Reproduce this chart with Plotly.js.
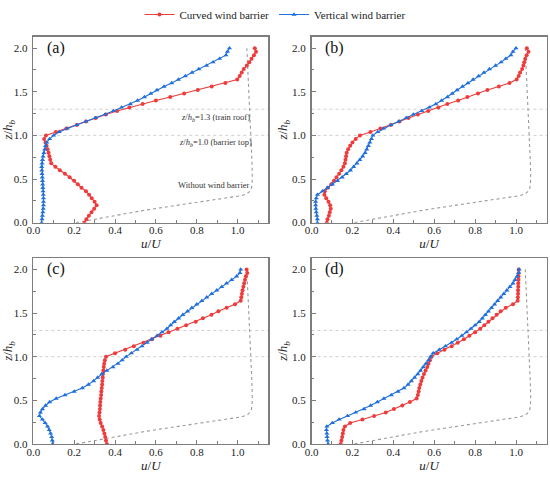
<!DOCTYPE html>
<html>
<head>
<meta charset="utf-8">
<script src="https://cdn.plot.ly/plotly-3.0.1.min.js"></script>
<style>html,body{margin:0;padding:0;background:#fff;}#chart{width:550px;height:479px;}</style>
</head>
<body>
<div id="chart"></div>
<script>
// Heights z/h_b of the measured points
const zLevels = [0.00,0.04,0.08,0.12,0.16,0.20,0.24,0.28,0.32,0.36,0.40,0.44,0.48,0.52,0.56,0.60,0.64,0.68,0.72,0.76,0.80,0.84,0.88,0.92,0.96,1.00,1.04,1.08,1.12,1.16,1.20,1.24,1.28,1.32,1.36,1.40,1.44,1.48,1.52,1.56,1.60,1.64,1.68,1.72,1.76,1.80,1.84,1.88,1.92,1.96,2.00];

// Panel (a)
const aCurved = [0.25,0.26,0.272,0.285,0.298,0.31,0.30,0.286,0.273,0.258,0.236,0.218,0.20,0.178,0.155,0.13,0.108,0.088,0.083,0.079,0.075,0.07,0.065,0.06,0.053,0.062,0.11,0.162,0.213,0.258,0.305,0.355,0.41,0.47,0.535,0.60,0.67,0.738,0.805,0.873,0.94,0.998,1.01,1.02,1.03,1.045,1.057,1.068,1.08,1.09,1.084];
const aVertical = [0.041,0.043,0.045,0.047,0.049,0.05,0.05,0.05,0.049,0.048,0.047,0.046,0.045,0.044,0.043,0.042,0.041,0.043,0.045,0.048,0.052,0.056,0.06,0.066,0.08,0.10,0.127,0.167,0.213,0.258,0.305,0.352,0.392,0.432,0.475,0.51,0.544,0.575,0.605,0.64,0.677,0.71,0.744,0.777,0.81,0.848,0.88,0.912,0.943,0.95,0.96];

// Panel (b)
const bCurved = [0.075,0.078,0.085,0.089,0.094,0.091,0.083,0.072,0.063,0.065,0.08,0.097,0.11,0.122,0.135,0.146,0.156,0.163,0.166,0.169,0.172,0.179,0.189,0.20,0.216,0.237,0.288,0.337,0.388,0.43,0.474,0.52,0.571,0.62,0.664,0.717,0.762,0.814,0.86,0.916,0.968,1.003,1.013,1.02,1.03,1.036,1.04,1.045,1.052,1.061,1.053];
const bVertical = [0.029,0.029,0.026,0.023,0.021,0.02,0.02,0.023,0.029,0.054,0.078,0.102,0.127,0.15,0.17,0.19,0.206,0.222,0.236,0.25,0.262,0.27,0.278,0.285,0.293,0.30,0.324,0.353,0.388,0.426,0.463,0.498,0.539,0.576,0.608,0.636,0.665,0.688,0.712,0.738,0.765,0.79,0.817,0.843,0.87,0.90,0.927,0.95,0.975,0.985,1.0];

// Panel (c)
const cCurved = [0.36,0.356,0.352,0.348,0.343,0.337,0.33,0.325,0.322,0.324,0.326,0.327,0.328,0.33,0.332,0.333,0.335,0.337,0.338,0.34,0.341,0.343,0.345,0.347,0.35,0.356,0.40,0.45,0.492,0.54,0.581,0.622,0.662,0.705,0.748,0.795,0.83,0.872,0.906,0.946,0.987,1.015,1.018,1.021,1.024,1.028,1.032,1.036,1.04,1.047,1.044];
const cVertical = [0.095,0.093,0.09,0.085,0.078,0.07,0.058,0.045,0.03,0.035,0.045,0.06,0.08,0.112,0.155,0.20,0.24,0.27,0.295,0.315,0.335,0.36,0.39,0.415,0.435,0.455,0.48,0.508,0.532,0.557,0.58,0.606,0.63,0.654,0.672,0.69,0.711,0.732,0.755,0.776,0.80,0.825,0.849,0.873,0.898,0.922,0.946,0.971,0.995,1.011,1.015];

// Panel (d)
const dCurved = [0.143,0.146,0.15,0.153,0.156,0.163,0.189,0.249,0.306,0.363,0.403,0.444,0.481,0.514,0.52,0.524,0.527,0.532,0.537,0.543,0.55,0.558,0.566,0.572,0.579,0.587,0.615,0.65,0.685,0.715,0.745,0.772,0.80,0.825,0.845,0.865,0.885,0.905,0.925,0.95,0.985,1.008,1.009,1.01,1.01,1.011,1.011,1.012,1.012,1.013,1.013];
const dVertical = [0.081,0.078,0.076,0.075,0.073,0.075,0.102,0.135,0.176,0.216,0.257,0.289,0.322,0.354,0.39,0.423,0.452,0.472,0.488,0.504,0.52,0.533,0.546,0.559,0.572,0.582,0.595,0.625,0.655,0.685,0.71,0.735,0.758,0.78,0.80,0.82,0.835,0.85,0.865,0.88,0.895,0.91,0.925,0.94,0.955,0.97,0.985,0.995,1.005,1.012,1.015];

// Without wind barrier profile
const zRef = [0,0.03,0.06,0.10,0.14,0.18,0.22,0.26,0.29,0.31,0.33,0.36,0.40,0.50,0.70,1.00,1.30,1.60,1.80,2.00];
const uRef = [0.21,0.28,0.35,0.44,0.54,0.65,0.76,0.88,0.97,1.02,1.045,1.06,1.068,1.072,1.07,1.065,1.06,1.055,1.05,1.045];

// Reference heights
const refLevels = [1.0, 1.3];

const panelLabels = ['(a)','(b)','(c)','(d)'];
const seriesNames = ['Curved wind barrier','Vertical wind barrier'];
const panels = [[aCurved,aVertical],[bCurved,bVertical],[cCurved,cVertical],[dCurved,dVertical]];

const RED = '#ef3b3b', BLUE = '#1f6fdc';
const FONT = '"Liberation Serif", "DejaVu Serif", serif';

const traces = [];
const shapes = [];
const annotations = [];

panels.forEach((p, i) => {
  const xa = 'x' + (i === 0 ? '' : i + 1);
  const ya = 'y' + (i === 0 ? '' : i + 1);
  traces.push({x: uRef, y: zRef, xaxis: xa, yaxis: ya, mode: 'lines', showlegend: false,
    line: {color: '#999999', width: 1.1, dash: 'dot'}, hoverinfo: 'skip'});
  traces.push({x: p[0], y: zLevels, xaxis: xa, yaxis: ya, mode: 'lines+markers', name: seriesNames[0],
    showlegend: i === 0, legendrank: 1,
    line: {color: RED, width: 1.1}, marker: {symbol: 'circle', size: 4, color: RED}});
  traces.push({x: p[1], y: zLevels, xaxis: xa, yaxis: ya, mode: 'lines+markers', name: seriesNames[1],
    showlegend: i === 0, legendrank: 2,
    line: {color: BLUE, width: 1.1}, marker: {symbol: 'triangle-up', size: 4.5, color: BLUE}});
  refLevels.forEach(r => {
    shapes.push({type: 'line', xref: xa + ' domain', yref: ya, x0: 0, x1: 1, y0: r, y1: r,
      line: {color: '#c4c4c4', width: 0.8, dash: 'dot'}, layer: 'below'});
  });
  annotations.push({xref: xa, yref: ya, x: 0.055, y: 2.0, xanchor: 'left', yanchor: 'middle',
    text: panelLabels[i], showarrow: false, font: {family: FONT, size: 16, color: '#111'}});
});

annotations.push({xref: 'x', yref: 'y', x: 0.89, y: 1.21, text: '<i>z</i>/<i>h</i><sub><i>b</i></sub>=1.3 (train roof)',
  showarrow: false, font: {family: FONT, size: 8.5, color: '#333'}});
annotations.push({xref: 'x', yref: 'y', x: 0.89, y: 0.92, text: '<i>z</i>/<i>h</i><sub><i>b</i></sub>=1.0 (barrier top)',
  showarrow: false, font: {family: FONT, size: 8.5, color: '#333'}});
annotations.push({xref: 'x', yref: 'y', x: 0.885, y: 0.43, text: 'Without wind barrier',
  showarrow: false, font: {family: FONT, size: 8.5, color: '#333'}});

function xAxis(dom, anchor) {
  return {domain: dom, anchor: anchor, range: [0, 1.15], dtick: 0.2, tick0: 0, tickformat: '.1f',
    showgrid: false, zeroline: false, showline: true, linecolor: '#7d7d7d', linewidth: 1.5, mirror: true,
    ticks: 'inside', ticklen: 4, tickwidth: 1, tickcolor: '#7d7d7d', automargin: false,
    ticklabelstandoff: -3,
    minor: {dtick: 0.1, ticks: 'inside', ticklen: 2.5, tickcolor: '#7d7d7d', showgrid: false},
    tickfont: {family: FONT, size: 11, color: '#222'},
    title: {text: '<i>u</i>/<i>U</i>', font: {family: FONT, size: 13, color: '#222'}, standoff: 1}};
}
function yAxis(dom, anchor) {
  return {domain: dom, anchor: anchor, range: [0, 2.13], dtick: 0.5, tick0: 0, tickformat: '.1f',
    showgrid: false, zeroline: false, showline: true, linecolor: '#7d7d7d', linewidth: 1.5, mirror: true,
    ticks: 'inside', ticklen: 4, tickwidth: 1, tickcolor: '#7d7d7d', automargin: false,
    ticklabelstandoff: 2,
    minor: {dtick: 0.25, ticks: 'inside', ticklen: 2.5, tickcolor: '#7d7d7d', showgrid: false},
    tickfont: {family: FONT, size: 11, color: '#222'},
    title: {text: '<i>z</i>/<i>h</i><sub><i>b</i></sub>', font: {family: FONT, size: 13, color: '#222'}, standoff: 1}};
}

const xL = [0.0605, 0.4878], xR = [0.5664, 0.994];
const yT = [0.5443, 0.9388], yB = [0.0745, 0.4691];

const layout = {
  width: 550, height: 479,
  margin: {l: 0, r: 0, t: 0, b: 0},
  paper_bgcolor: '#fff', plot_bgcolor: '#fff',
  font: {family: FONT, color: '#222'},
  showlegend: true,
  legend: {orientation: 'h', x: 0.5, xanchor: 'center', y: 0.987, yanchor: 'middle', itemwidth: 30,
    font: {family: FONT, size: 11, color: '#222'}, bgcolor: 'rgba(0,0,0,0)', traceorder: 'normal'},
  xaxis: xAxis(xL, 'y'), yaxis: yAxis(yT, 'x'),
  xaxis2: xAxis(xR, 'y2'), yaxis2: yAxis(yT, 'x2'),
  xaxis3: xAxis(xL, 'y3'), yaxis3: yAxis(yB, 'x3'),
  xaxis4: xAxis(xR, 'y4'), yaxis4: yAxis(yB, 'x4'),
  shapes: shapes,
  annotations: annotations
};

Plotly.newPlot('chart', traces, layout, {displayModeBar: false, staticPlot: true});
</script>
</body>
</html>
